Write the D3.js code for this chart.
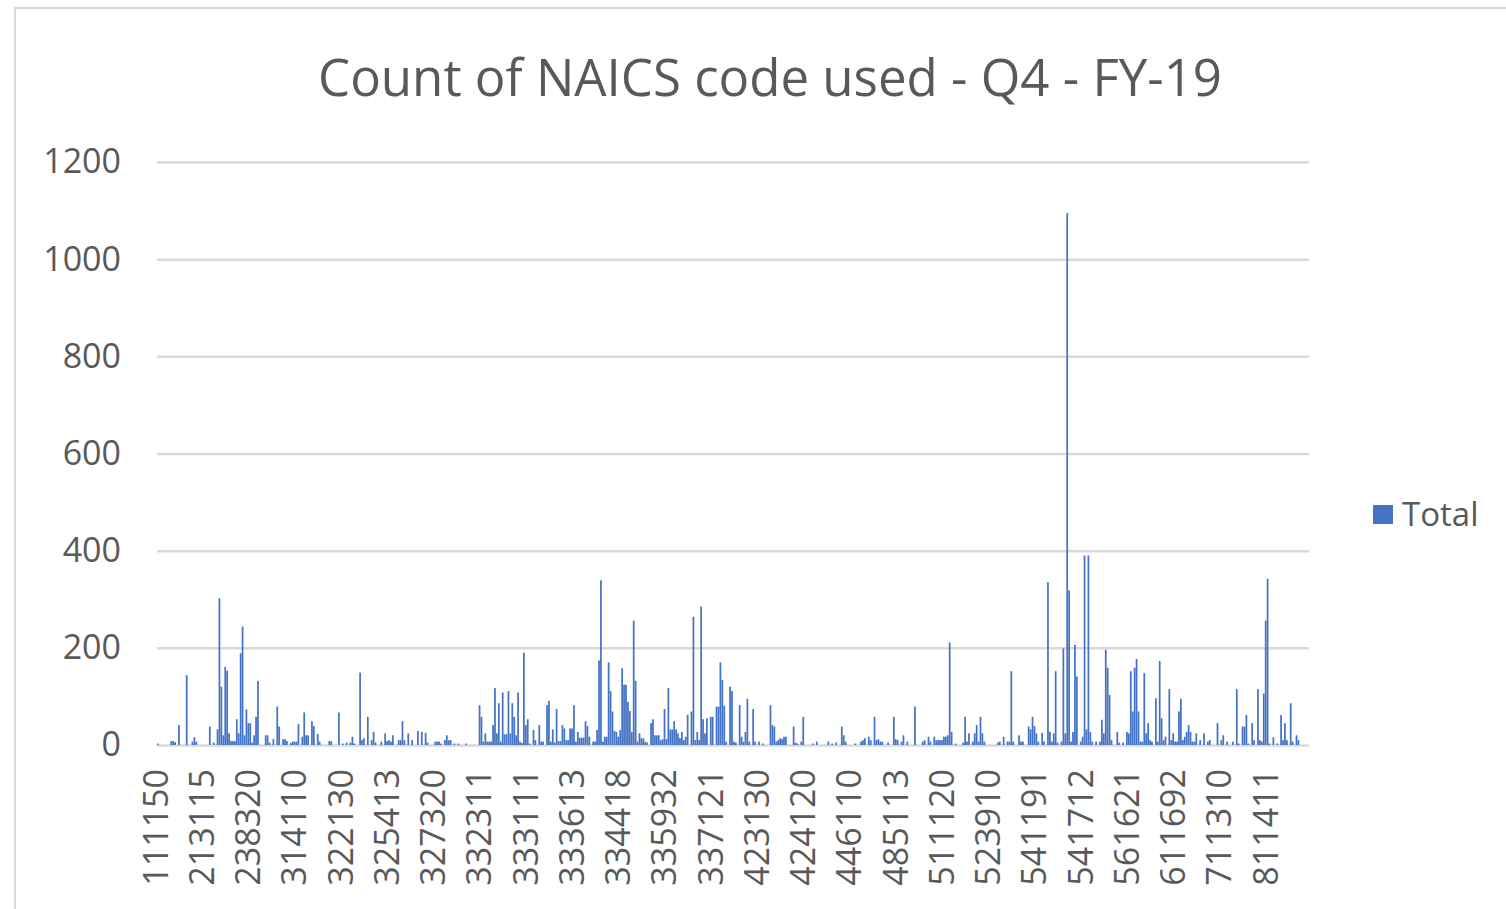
<!DOCTYPE html>
<html>
<head>
<meta charset="utf-8">
<script src="https://cdn.jsdelivr.net/npm/d3@7"></script>
<style>
  body { margin: 0; background: #fff; }
  text { font-family: "Segoe UI", "Open Sans", "Noto Sans", sans-serif; fill: #595959; }
</style>
</head>
<body>
<svg id="chart"></svg>
<script>
// category labels shown on the axis (every 24th NAICS code)
var tickLabels = ['111150', '213115', '238320', '314110', '322130', '325413', '327320',
  '332311', '333111', '333613', '334418', '335932', '337121', '423130', '424120',
  '446110', '485113', '511120', '523910', '541191', '541712', '561621', '611692',
  '711310', '811411'];
var labelStep = 24;

// count per NAICS code, in axis order
var totals = [
  0, 3, 0, 0, 0, 0, 0, 0, 8, 8, 6, 0, 41, 0, 0, 0, 144, 0, 0, 7,
  16, 7, 0, 0, 0, 0, 0, 0, 38, 0, 5, 0, 32, 302, 120, 20, 161, 153, 24, 8,
  8, 8, 53, 24, 189, 244, 20, 73, 45, 45, 5, 20, 58, 132, 0, 0, 0, 20, 20, 5,
  0, 12, 0, 79, 38, 0, 12, 12, 8, 0, 4, 7, 7, 7, 43, 0, 17, 67, 20, 20,
  0, 49, 39, 0, 23, 7, 0, 0, 0, 0, 8, 8, 0, 0, 0, 67, 0, 3, 0, 5,
  0, 5, 17, 3, 0, 0, 149, 10, 14, 0, 58, 0, 10, 27, 5, 0, 0, 7, 0, 24,
  8, 10, 7, 20, 0, 0, 10, 10, 49, 10, 0, 24, 0, 10, 0, 0, 29, 0, 27, 0,
  25, 5, 0, 0, 0, 7, 7, 7, 3, 0, 10, 20, 10, 10, 0, 3, 0, 3, 0, 0,
  0, 3, 0, 0, 0, 0, 0, 0, 82, 58, 7, 24, 7, 7, 7, 41, 117, 24, 86, 7,
  108, 22, 22, 111, 24, 86, 58, 20, 108, 7, 4, 190, 41, 53, 3, 0, 31, 10, 0, 41,
  7, 7, 0, 82, 91, 7, 32, 5, 74, 8, 8, 41, 34, 10, 10, 34, 34, 82, 7, 27,
  15, 15, 15, 49, 39, 17, 0, 7, 7, 31, 174, 339, 7, 17, 17, 170, 111, 69, 29, 27,
  17, 31, 158, 124, 124, 89, 70, 27, 256, 132, 7, 24, 14, 14, 7, 5, 0, 45, 53, 20,
  20, 20, 10, 12, 74, 12, 117, 32, 32, 49, 32, 24, 14, 27, 10, 17, 62, 0, 69, 264,
  10, 27, 10, 285, 53, 24, 55, 0, 58, 58, 0, 79, 79, 170, 134, 81, 7, 0, 120, 111,
  7, 5, 0, 82, 17, 7, 27, 95, 7, 0, 74, 7, 0, 7, 0, 3, 0, 0, 0, 82,
  41, 38, 7, 10, 14, 12, 17, 17, 0, 0, 0, 38, 5, 3, 0, 7, 58, 0, 0, 0,
  0, 3, 0, 7, 0, 0, 0, 0, 0, 7, 0, 3, 0, 5, 0, 0, 38, 20, 7, 0,
  0, 0, 0, 3, 0, 0, 7, 10, 14, 0, 17, 10, 0, 58, 10, 12, 7, 7, 0, 0,
  5, 0, 0, 58, 12, 10, 0, 7, 20, 0, 7, 0, 0, 0, 79, 0, 0, 0, 7, 10,
  0, 17, 7, 0, 17, 10, 10, 10, 10, 17, 17, 20, 211, 27, 0, 3, 0, 0, 0, 5,
  58, 7, 24, 0, 7, 24, 41, 7, 58, 24, 7, 0, 0, 0, 0, 0, 0, 5, 7, 0,
  17, 0, 7, 7, 152, 7, 0, 0, 20, 7, 7, 0, 0, 38, 32, 58, 39, 24, 7, 0,
  25, 7, 0, 335, 27, 7, 24, 152, 5, 0, 7, 199, 24, 1095, 318, 7, 27, 206, 141, 0,
  7, 17, 390, 32, 390, 27, 7, 0, 7, 0, 7, 52, 24, 196, 159, 103, 10, 0, 0, 27,
  5, 0, 5, 0, 27, 24, 152, 69, 159, 177, 69, 7, 7, 148, 24, 45, 10, 7, 0, 96,
  7, 173, 55, 10, 17, 0, 115, 10, 24, 7, 7, 69, 95, 10, 17, 27, 41, 27, 7, 7,
  24, 0, 10, 0, 24, 0, 7, 10, 0, 0, 0, 45, 0, 10, 20, 0, 7, 0, 0, 7,
  0, 115, 3, 0, 38, 38, 62, 3, 0, 45, 10, 0, 115, 10, 7, 106, 256, 342, 3, 0,
  16, 0, 3, 0, 62, 10, 45, 10, 0, 86, 7, 0, 20, 10, 0, 0, 0, 0
];

var yTicks = [0, 200, 400, 600, 800, 1000, 1200];
var seriesName = 'Total';
var chartTitle = 'Count of NAICS code used - Q4 - FY-19';

var WIDTH = 1506, HEIGHT = 909;
// plot area edges
var plotLeft = 155, plotRight = 1307, plotTop = 162, plotBottom = 745;
var barColor = '#4472c4';
var gridColor = '#d9d9d9';

var svg = d3.select('#chart').attr('width', WIDTH).attr('height', HEIGHT);

// chart border (only left and top edges show in the picture)
svg.append('path')
  .attr('d', 'M15,' + HEIGHT + 'V8H' + WIDTH)
  .attr('fill', 'none')
  .attr('stroke', gridColor)
  .attr('stroke-width', 2);

var x = d3.scaleBand()
  .domain(d3.range(totals.length))
  .range([plotLeft, plotRight])
  .paddingInner(0.1);

var y = d3.scaleLinear().domain([0, 1200]).range([plotBottom, plotTop]);

// gridlines + y labels
var yAxis = svg.append('g')
  .attr('transform', 'translate(' + plotLeft + ',0)')
  .call(d3.axisLeft(y)
    .tickValues(yTicks)
    .tickFormat(d3.format('d'))
    .tickSize(-(plotRight - plotLeft + 2))
    .tickPadding(34));
yAxis.select('.domain').remove();
yAxis.selectAll('.tick line').attr('stroke', gridColor).attr('stroke-width', 2.5).attr('x1', 2);
yAxis.selectAll('.tick text')
  .style('font-size', '34px')
  .attr('fill', '#595959');

// bars
svg.append('g').selectAll('rect')
  .data(totals)
  .enter().append('rect')
  .attr('x', function (d, i) { return x(i); })
  .attr('width', x.bandwidth())
  .attr('y', function (d) { return y(d); })
  .attr('height', function (d) { return plotBottom - y(d); })
  .attr('fill', barColor);

// x labels, rotated
var xAxis = svg.append('g')
  .attr('transform', 'translate(0,' + plotBottom + ')')
  .call(d3.axisBottom(x)
    .tickValues(tickLabels.map(function (d, i) { return i * labelStep; }))
    .tickFormat(function (d) { return tickLabels[d / labelStep]; })
    .tickSize(0));
xAxis.select('.domain').remove();
xAxis.selectAll('.tick text')
  .attr('transform', 'rotate(-90)')
  .attr('x', -24)
  .attr('y', 0)
  .attr('dy', '0.35em')
  .attr('text-anchor', 'end')
  .style('font-size', '34px')
  .attr('fill', '#595959');

// title
var title = svg.append('text')
  .attr('x', 770)
  .attr('y', 96)
  .attr('text-anchor', 'middle')
  .style('font-size', '44px')
  .text(chartTitle);
// fit the title to the width it has in the picture
var tw = title.node().getComputedTextLength();
title.style('font-size', (44 * 904 / tw) + 'px');

// legend
svg.append('rect')
  .attr('x', 1373).attr('y', 505)
  .attr('width', 20).attr('height', 19)
  .attr('fill', barColor);
svg.append('text')
  .attr('x', 1402).attr('y', 514)
  .attr('dy', '0.35em')
  .style('font-size', '33px')
  .text(seriesName);
</script>
</body>
</html>
